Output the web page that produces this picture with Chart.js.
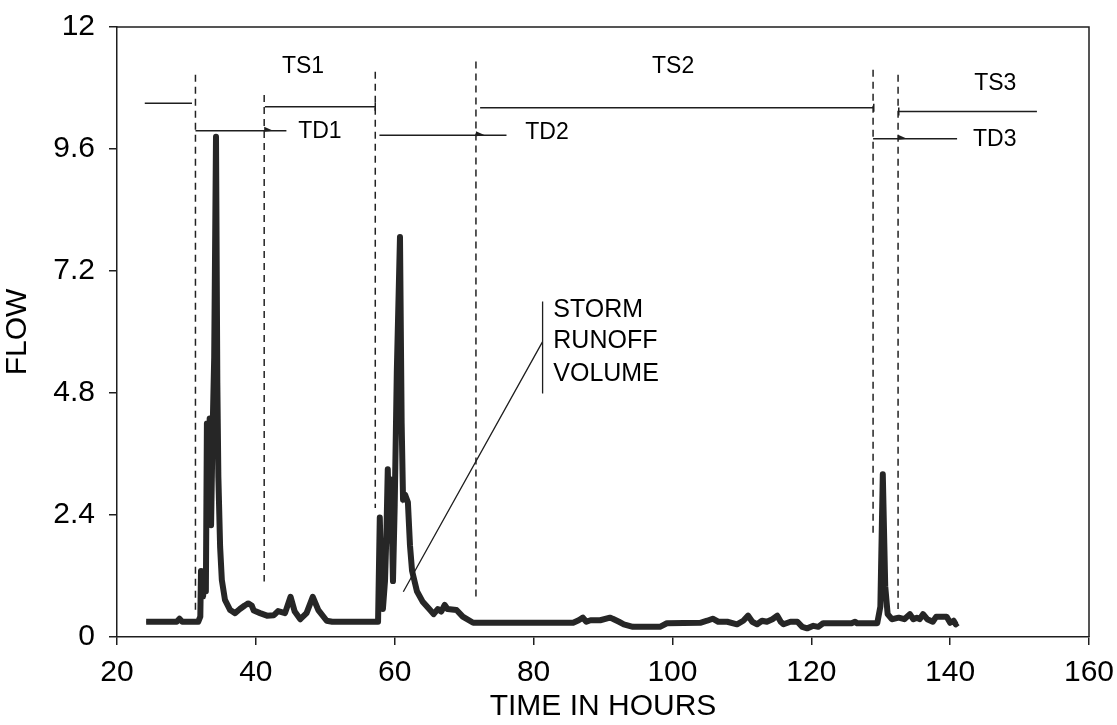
<!DOCTYPE html>
<html>
<head>
<meta charset="utf-8">
<script src="https://cdn.jsdelivr.net/npm/chart.js@4"></script>
<style>
  html, body { margin: 0; padding: 0; background: #fff; }
  #wrap { width: 1117px; height: 725px; }
</style>
</head>
<body>
<div id="wrap"><canvas id="flowChart"></canvas></div>
<script>
// Hydrograph readings (time in hours, flow)
const timeHours = [
  24.2, 28.6, 29.0, 29.4, 31.7, 32.0, 32.1, 32.4, 32.6, 32.8,
  32.95, 33.15, 33.35, 33.55, 33.75, 34.0, 34.26, 34.45, 34.6, 34.85,
  35.1, 35.55, 36.3, 37.0, 37.7, 38.4, 38.9, 39.4, 39.7, 40.6,
  41.6, 42.6, 43.2, 44.2, 45.0, 45.6, 46.4, 47.3, 48.2, 49.0,
  50.2, 51.0, 57.6, 57.85, 58.1, 58.3, 58.6, 58.8, 59.0, 59.25,
  59.45, 59.75, 60.0, 60.3, 60.76, 61.0, 61.2, 61.5, 61.9, 62.2,
  62.5, 63.2, 64.0, 65.1, 65.6, 66.2, 66.7, 67.2, 67.6, 68.9,
  69.8, 71.3, 85.7, 86.5, 87.1, 87.6, 88.2, 89.6, 91.0, 91.4,
  92.3, 93.0, 94.3, 98.2, 99.2, 104.0, 105.0, 105.8, 106.6, 107.9,
  109.3, 110.2, 110.9, 111.5, 112.2, 112.9, 113.6, 114.4, 115.1, 115.6,
  116.0, 117.0, 118.0, 118.7, 119.4, 120.3, 121.0, 121.7, 125.8, 126.3,
  126.6, 129.5, 129.95, 130.3, 130.65, 131.0, 131.6, 132.6, 133.4, 134.2,
  134.7, 135.2, 135.6, 136.1, 136.7, 137.5, 138.0, 139.5, 140.0, 140.5,
  140.8, 141.1
];
const flowValues = [
  0.3, 0.3, 0.36, 0.3, 0.3, 0.4, 1.3, 0.8, 1.3, 0.9,
  4.2, 2.4, 4.3, 2.2, 3.9, 5.5, 9.84, 5.0, 3.15, 1.78,
  1.12, 0.73, 0.53, 0.47, 0.55, 0.62, 0.66, 0.62, 0.52, 0.47,
  0.42, 0.43, 0.51, 0.47, 0.79, 0.5, 0.35, 0.47, 0.79, 0.53,
  0.32, 0.3, 0.3, 2.35, 0.9, 0.55, 1.1, 2.0, 3.3, 1.9,
  3.1, 1.1, 2.6, 5.2, 7.87, 4.2, 2.7, 2.8, 2.65, 1.8,
  1.3, 0.9, 0.7, 0.53, 0.45, 0.55, 0.5, 0.63, 0.55, 0.53,
  0.4, 0.28, 0.28, 0.33, 0.38, 0.3, 0.33, 0.33, 0.38, 0.36,
  0.3, 0.25, 0.2, 0.2, 0.27, 0.28, 0.32, 0.36, 0.3, 0.3,
  0.25, 0.32, 0.42, 0.3, 0.25, 0.32, 0.3, 0.35, 0.42, 0.3,
  0.25, 0.3, 0.3, 0.2, 0.17, 0.22, 0.2, 0.27, 0.27, 0.3,
  0.27, 0.27, 0.6, 3.2, 1.0, 0.45, 0.35, 0.38, 0.35, 0.45,
  0.35, 0.38, 0.35, 0.45, 0.35, 0.3, 0.4, 0.4, 0.28, 0.32,
  0.25, 0.28
];

const xTicks = [20, 40, 60, 80, 100, 120, 140, 160];
const yTicks = [0, 2.4, 4.8, 7.2, 9.6, 12];
const yTickLabels = ["0", "2.4", "4.8", "7.2", "9.6", "12"];

// storm separation markers (hours / flow units)
const dividerTimes = [31.3, 41.2, 57.2, 71.7, 128.9, 132.5];
const dividerTops = [11.06, 10.66, 11.12, 11.32, 11.16, 11.06];
const dividerBottoms = [0.53, 1.09, 2.54, 0.77, 2.0, 0.55];

const tsStart = [24.0, 41.3, 72.3, 132.6];
const tsEnd = [30.8, 57.2, 129.0, 152.5];
const tsLevel = [10.5, 10.43, 10.41, 10.34];
const tsNames = ["TS1", "TS2", "TS3"];
const tsNameTime = [46.8, 100.1, 146.5];
const tsNameFlow = [11.09, 11.09, 10.76];

const tdStart = [31.3, 57.8, 128.9];
const tdEnd = [44.4, 76.1, 141.0];
const tdLevel = [9.96, 9.87, 9.8];
const tdArrowAt = [41.2, 71.7, 132.5];
const tdNames = ["TD1", "TD2", "TD3"];
const tdNameTime = [46.1, 78.8, 143.3];
const tdNameFlow = [9.81, 9.79, 9.66];

const runoffLines = ["STORM", "RUNOFF", "VOLUME"];
const runoffTextTime = 82.84;
const runoffTextFlow = [6.3, 5.68, 5.04];
const runoffBarTime = 81.3;
const runoffBarFlow = [4.79, 6.6];
const pointerTime = [61.24, 81.3];
const pointerFlow = [0.89, 5.81];

const FONT = "'Liberation Sans', Arial, sans-serif";
const INK = "#1e1e1e";

const points = timeHours.map((t, i) => ({ x: t, y: flowValues[i] }));

// draws the storm markers and the frame on top of the data
const markers = {
  id: "markers",
  afterDatasetsDraw(chart) {
    const ctx = chart.ctx;
    const x = chart.scales.x;
    const y = chart.scales.y;
    const a = chart.chartArea;
    const px = v => x.getPixelForValue(v);
    const py = v => y.getPixelForValue(v);
    ctx.save();

    // frame top + right
    ctx.strokeStyle = INK;
    ctx.lineWidth = 1.5;
    ctx.beginPath();
    ctx.moveTo(a.left, a.top);
    ctx.lineTo(a.right, a.top);
    ctx.lineTo(a.right, a.bottom);
    ctx.stroke();

    // dashed dividers
    ctx.setLineDash([7, 5]);
    ctx.strokeStyle = "#222";
    ctx.lineWidth = 1.5;
    dividerTimes.forEach((t, i) => {
      ctx.beginPath();
      ctx.moveTo(px(t), py(dividerTops[i]));
      ctx.lineTo(px(t), py(dividerBottoms[i]));
      ctx.stroke();
    });
    ctx.setLineDash([]);

    // TS spans
    ctx.strokeStyle = INK;
    ctx.lineWidth = 1.5;
    tsStart.forEach((t, i) => {
      ctx.beginPath();
      ctx.moveTo(px(t), py(tsLevel[i]));
      ctx.lineTo(px(tsEnd[i]), py(tsLevel[i]));
      ctx.stroke();
    });
    // little end caps
    [[1, tsEnd[1]], [2, tsEnd[2]], [3, tsStart[3]]].forEach(([i, t]) => {
      ctx.beginPath();
      ctx.moveTo(px(t), py(tsLevel[i]) - 4);
      ctx.lineTo(px(t), py(tsLevel[i]) + 4);
      ctx.stroke();
    });

    // TD spans with arrow marks
    tdStart.forEach((t, i) => {
      const yy = py(tdLevel[i]);
      ctx.beginPath();
      ctx.moveTo(px(t), yy);
      ctx.lineTo(px(tdEnd[i]), yy);
      ctx.stroke();
      const ax = px(tdArrowAt[i]);
      ctx.fillStyle = INK;
      ctx.beginPath();
      ctx.moveTo(ax, yy - 4);
      ctx.lineTo(ax + 9, yy);
      ctx.lineTo(ax, yy + 1);
      ctx.closePath();
      ctx.fill();
    });

    // labels
    ctx.fillStyle = "#000";
    ctx.font = "23px " + FONT;
    ctx.textBaseline = "alphabetic";
    ctx.textAlign = "center";
    tsNames.forEach((n, i) => ctx.fillText(n, px(tsNameTime[i]), py(tsNameFlow[i])));
    ctx.textAlign = "left";
    tdNames.forEach((n, i) => ctx.fillText(n, px(tdNameTime[i]), py(tdNameFlow[i])));

    // storm runoff volume callout
    ctx.lineWidth = 1.3;
    ctx.beginPath();
    ctx.moveTo(px(runoffBarTime), py(runoffBarFlow[0]));
    ctx.lineTo(px(runoffBarTime), py(runoffBarFlow[1]));
    ctx.moveTo(px(pointerTime[0]), py(pointerFlow[0]));
    ctx.lineTo(px(pointerTime[1]), py(pointerFlow[1]));
    ctx.stroke();
    ctx.font = "25px " + FONT;
    runoffLines.forEach((s, i) => ctx.fillText(s, px(runoffTextTime), py(runoffTextFlow[i])));

    ctx.restore();
  }
};

new Chart(document.getElementById("flowChart"), {
  type: "scatter",
  data: {
    datasets: [
      {
        data: points,
        showLine: true,
        borderColor: "#262626",
        borderWidth: 6,
        pointRadius: 0,
        tension: 0,
        borderJoinStyle: "round"
      },
      {
        data: points,
        showLine: true,
        borderColor: "#7a7a7a",
        borderWidth: 1.8,
        pointRadius: 0,
        tension: 0
      }
    ]
  },
  options: {
    responsive: true,
    maintainAspectRatio: false,
    animation: false,
    layout: { padding: { top: 27, right: 28, left: 0, bottom: 0 } },
    plugins: { legend: { display: false }, tooltip: { enabled: false } },
    scales: {
      x: {
        type: "linear",
        min: 20,
        max: 160,
        afterBuildTicks: s => { s.ticks = xTicks.map(v => ({ value: v })); },
        afterFit: s => { s.height = 88; s.paddingLeft = 0; s.paddingRight = 0; },
        ticks: { color: "#000", font: { family: FONT, size: 30 }, padding: 10, maxRotation: 0 },
        grid: { drawOnChartArea: false, drawTicks: true, tickLength: 8, color: INK, lineWidth: 1.5 },
        border: { display: true, color: INK, width: 1.5 },
        title: { display: true, text: "TIME IN HOURS", color: "#000", font: { family: FONT, size: 30 }, padding: { top: -3, bottom: 0 } }
      },
      y: {
        min: 0,
        max: 12,
        afterBuildTicks: s => { s.ticks = yTicks.map(v => ({ value: v })); },
        afterFit: s => { s.width = 117; s.paddingTop = 0; s.paddingBottom = 0; },
        ticks: {
          color: "#000",
          font: { family: FONT, size: 30 },
          padding: 14,
          callback: (v, i) => yTickLabels[i]
        },
        grid: { drawOnChartArea: false, drawTicks: true, tickLength: 8, color: INK, lineWidth: 1.5 },
        border: { display: true, color: INK, width: 1.5 },
        title: { display: true, text: "FLOW", color: "#000", font: { family: FONT, size: 30 }, padding: { top: 0, bottom: 0 } }
      }
    }
  },
  plugins: [markers]
});
</script>
</body>
</html>
